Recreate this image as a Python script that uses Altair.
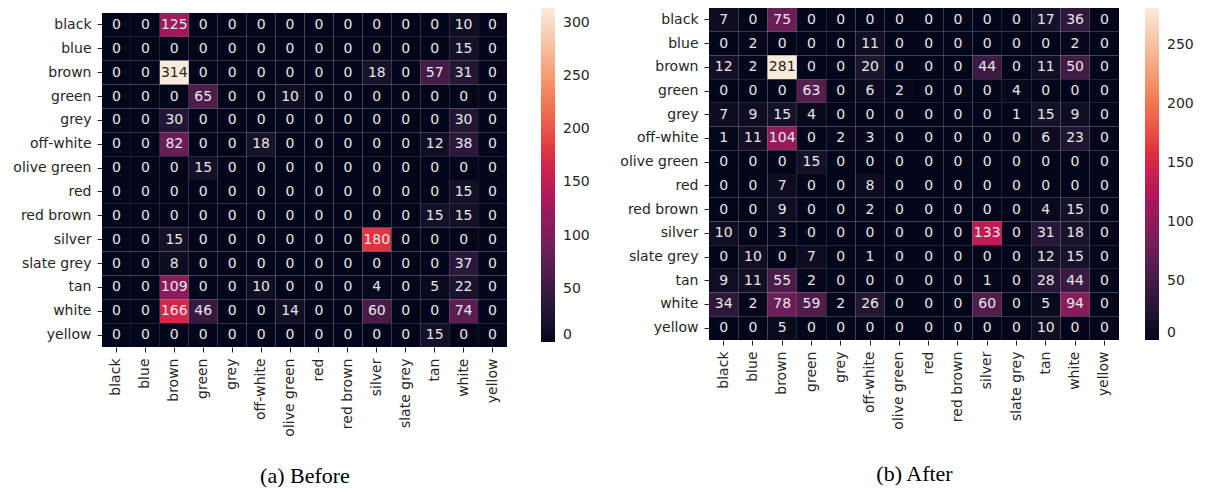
import altair as alt
import pandas as pd

categories = ["black", "blue", "brown", "green", "grey", "off-white", "olive green",
              "red", "red brown", "silver", "slate grey", "tan", "white", "yellow"]

before_counts = [
    [0, 0, 125, 0, 0, 0, 0, 0, 0, 0, 0, 0, 10, 0],
    [0, 0, 0, 0, 0, 0, 0, 0, 0, 0, 0, 0, 15, 0],
    [0, 0, 314, 0, 0, 0, 0, 0, 0, 18, 0, 57, 31, 0],
    [0, 0, 0, 65, 0, 0, 10, 0, 0, 0, 0, 0, 0, 0],
    [0, 0, 30, 0, 0, 0, 0, 0, 0, 0, 0, 0, 30, 0],
    [0, 0, 82, 0, 0, 18, 0, 0, 0, 0, 0, 12, 38, 0],
    [0, 0, 0, 15, 0, 0, 0, 0, 0, 0, 0, 0, 0, 0],
    [0, 0, 0, 0, 0, 0, 0, 0, 0, 0, 0, 0, 15, 0],
    [0, 0, 0, 0, 0, 0, 0, 0, 0, 0, 0, 15, 15, 0],
    [0, 0, 15, 0, 0, 0, 0, 0, 0, 180, 0, 0, 0, 0],
    [0, 0, 8, 0, 0, 0, 0, 0, 0, 0, 0, 0, 37, 0],
    [0, 0, 109, 0, 0, 10, 0, 0, 0, 4, 0, 5, 22, 0],
    [0, 0, 166, 46, 0, 0, 14, 0, 0, 60, 0, 0, 74, 0],
    [0, 0, 0, 0, 0, 0, 0, 0, 0, 0, 0, 15, 0, 0],
]

after_counts = [
    [7, 0, 75, 0, 0, 0, 0, 0, 0, 0, 0, 17, 36, 0],
    [0, 2, 0, 0, 0, 11, 0, 0, 0, 0, 0, 0, 2, 0],
    [12, 2, 281, 0, 0, 20, 0, 0, 0, 44, 0, 11, 50, 0],
    [0, 0, 0, 63, 0, 6, 2, 0, 0, 0, 4, 0, 0, 0],
    [7, 9, 15, 4, 0, 0, 0, 0, 0, 0, 1, 15, 9, 0],
    [1, 11, 104, 0, 2, 3, 0, 0, 0, 0, 0, 6, 23, 0],
    [0, 0, 0, 15, 0, 0, 0, 0, 0, 0, 0, 0, 0, 0],
    [0, 0, 7, 0, 0, 8, 0, 0, 0, 0, 0, 0, 0, 0],
    [0, 0, 9, 0, 0, 2, 0, 0, 0, 0, 0, 4, 15, 0],
    [10, 0, 3, 0, 0, 0, 0, 0, 0, 133, 0, 31, 18, 0],
    [0, 10, 0, 7, 0, 1, 0, 0, 0, 0, 0, 12, 15, 0],
    [9, 11, 55, 2, 0, 0, 0, 0, 0, 1, 0, 28, 44, 0],
    [34, 2, 78, 59, 2, 26, 0, 0, 0, 60, 0, 5, 94, 0],
    [0, 0, 5, 0, 0, 0, 0, 0, 0, 0, 0, 10, 0, 0],
]

before_ticks = [0, 50, 100, 150, 200, 250, 300]
after_ticks = [0, 50, 100, 150, 200, 250]

rocket = ["#03051a", "#35193e", "#701f57", "#ad1759", "#e13342", "#f37651", "#f6b48f", "#faebdd"]

TXT = "#262626"


def to_frame(matrix):
    rows = []
    for i, t in enumerate(categories):
        for j, p in enumerate(categories):
            rows.append({"true": t, "pred": p, "count": matrix[i][j]})
    return pd.DataFrame(rows)


def heat(matrix, ticks, width, height, legend_offset, caption, title_pad):
    df = to_frame(matrix)
    vmax = max(max(r) for r in matrix)
    stops = [vmax * k / 7 for k in range(8)]
    base = alt.Chart(df).encode(
        x=alt.X("pred:N", sort=categories,
                axis=alt.Axis(title=caption, labelAngle=-90, labelAlign="right",
                              labelBaseline="middle", titlePadding=title_pad)),
        y=alt.Y("true:N", sort=categories, axis=alt.Axis(title=None)),
    )
    rect = base.mark_rect().encode(
        color=alt.Color("count:Q",
                        scale=alt.Scale(domain=stops, range=rocket),
                        legend=alt.Legend(title=None, values=ticks, gradientLength=height,
                                          gradientThickness=14, offset=legend_offset,
                                          labelFontSize=14, labelFont="DejaVu Sans",
                                          labelColor=TXT, labelOffset=8,
                                          gradientStrokeWidth=0)),
    )
    text = base.mark_text(fontSize=14, font="DejaVu Sans").encode(
        text="count:Q",
        color=alt.condition(alt.datum.count > vmax * 0.85, alt.value(TXT), alt.value("#e6e6e6")),
    )
    return alt.layer(rect, text).properties(width=width, height=height)


spacer = alt.Chart(pd.DataFrame({"a": [0]})).mark_rect(opacity=0).encode(
    x=alt.value(0), x2=alt.value(1), y=alt.value(0), y2=alt.value(1)
).properties(width=405, height=5)

left = alt.vconcat(
    spacer,
    heat(before_counts, before_ticks, 405, 334, 34, "(a) Before", 29),
    spacing=0,
)
right = heat(after_counts, after_ticks, 410, 332, 26, "(b) After", 34)

chart = alt.hconcat(left, right, spacing=29).resolve_scale(color="independent").resolve_legend(
    color="independent"
).properties(padding={"left": 4, "top": 0, "right": 0, "bottom": 0}).configure_view(
    stroke=None
).configure_axis(
    domain=False, tickColor=TXT, tickSize=5, labelPadding=6, labelFontSize=14,
    labelFont="DejaVu Sans", labelColor=TXT, titleFont="Liberation Serif",
    titleFontSize=22, titleFontWeight="normal", titleColor="#000000", grid=False,
)

chart.save("out.html", embed_options={"renderer": "svg", "actions": False})
